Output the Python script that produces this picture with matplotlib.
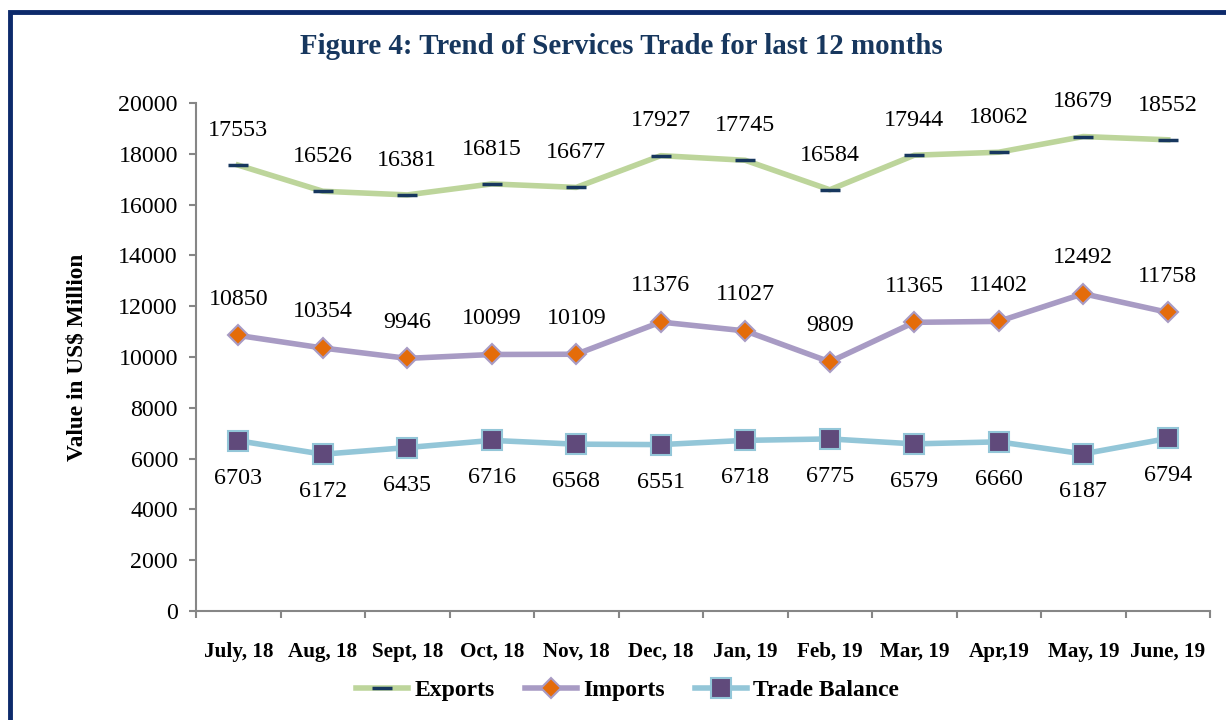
import matplotlib.pyplot as plt
from matplotlib.patches import Rectangle
import numpy as np

# Chart data
months = ['July, 18', 'Aug, 18', 'Sept, 18', 'Oct, 18', 'Nov, 18', 'Dec, 18',
          'Jan, 19', 'Feb, 19', 'Mar, 19', 'Apr,19', 'May, 19', 'June, 19']
exports = [17553, 16526, 16381, 16815, 16677, 17927, 17745, 16584, 17944, 18062, 18679, 18552]
imports = [10850, 10354, 9946, 10099, 10109, 11376, 11027, 9809, 11365, 11402, 12492, 11758]
balance = [6703, 6172, 6435, 6716, 6568, 6551, 6718, 6775, 6579, 6660, 6187, 6794]

# Style
EXP_COLOR = '#BDD59B'
IMP_COLOR = '#A89BC4'
IMP_MARK = '#E46C0A'
BAL_COLOR = '#93C6D8'
BAL_MARK = '#604A7B'
NAVY = '#17375E'
AXIS_GRAY = '#868686'

plt.rcParams['font.family'] = ['Liberation Serif', 'DejaVu Serif']

fig = plt.figure(figsize=(12.26, 7.2), dpi=100)
ax = fig.add_axes([196/1226, 1-611/720, (1210-196)/1226, (611-103)/720])

x = np.arange(len(months))
ax.plot(x, exports, color=EXP_COLOR, lw=4, marker='_', ms=14, mew=2.5,
        mec=NAVY, label='Exports', solid_joinstyle='round')
ax.plot(x, imports, color=IMP_COLOR, lw=4, marker='D', ms=10, mfc=IMP_MARK,
        mec=IMP_COLOR, mew=1.5, label='Imports')
ax.plot(x, balance, color=BAL_COLOR, lw=4, marker='s', ms=14, mfc=BAL_MARK,
        mec=BAL_COLOR, mew=1.5, label='Trade Balance')

# Data labels
for i in range(len(months)):
    ax.annotate(str(exports[i]), (x[i], exports[i]), xytext=(0, 25),
                textcoords='offset points', ha='center', va='center', fontsize=17.3)
    ax.annotate(str(imports[i]), (x[i], imports[i]), xytext=(0, 26),
                textcoords='offset points', ha='center', va='center', fontsize=17.3)
    ax.annotate(str(balance[i]), (x[i], balance[i]), xytext=(0, -27),
                textcoords='offset points', ha='center', va='center', fontsize=17.3)

ax.set_xlim(-0.5, len(months) - 0.5)
ax.set_ylim(0, 20000)
ax.set_yticks(np.arange(0, 20001, 2000))
ax.set_xticks(x)
ax.set_xticklabels(months, fontweight='bold', fontsize=15.2)
ax.set_xticks(np.arange(-0.5, len(months), 1), minor=True)
ax.tick_params(axis='x', which='major', length=0, pad=22)
ax.tick_params(axis='x', which='minor', length=5, color=AXIS_GRAY, width=1.5)
ax.tick_params(axis='y', length=5, color=AXIS_GRAY, width=1.5, labelsize=17.2, pad=8)
for s in ['top', 'right']:
    ax.spines[s].set_visible(False)
for s in ['left', 'bottom']:
    ax.spines[s].set_color(AXIS_GRAY)
    ax.spines[s].set_linewidth(1.5)

ax.set_ylabel('Value in US$ Million', fontweight='bold', fontsize=16.8, labelpad=22)

fig.text(0.507, 1-47/720, 'Figure 4: Trend of Services Trade for last 12 months',
         ha='center', va='center', fontsize=20.8, fontweight='bold', color=NAVY)

leg = fig.legend(loc='center', bbox_to_anchor=(0.512, 1-690/720), ncol=3,
                 frameon=False, prop={'weight': 'bold', 'size': 17},
                 handlelength=2.2, columnspacing=1.3, handletextpad=0.25)

# Navy frame
fig.patches.append(Rectangle((10/1226, -0.05), 1.1, 1-12/720 + 0.05,
                             transform=fig.transFigure, fill=False,
                             edgecolor='#0D2A6B', lw=3.5))

fig.savefig('out.png', dpi=100)
